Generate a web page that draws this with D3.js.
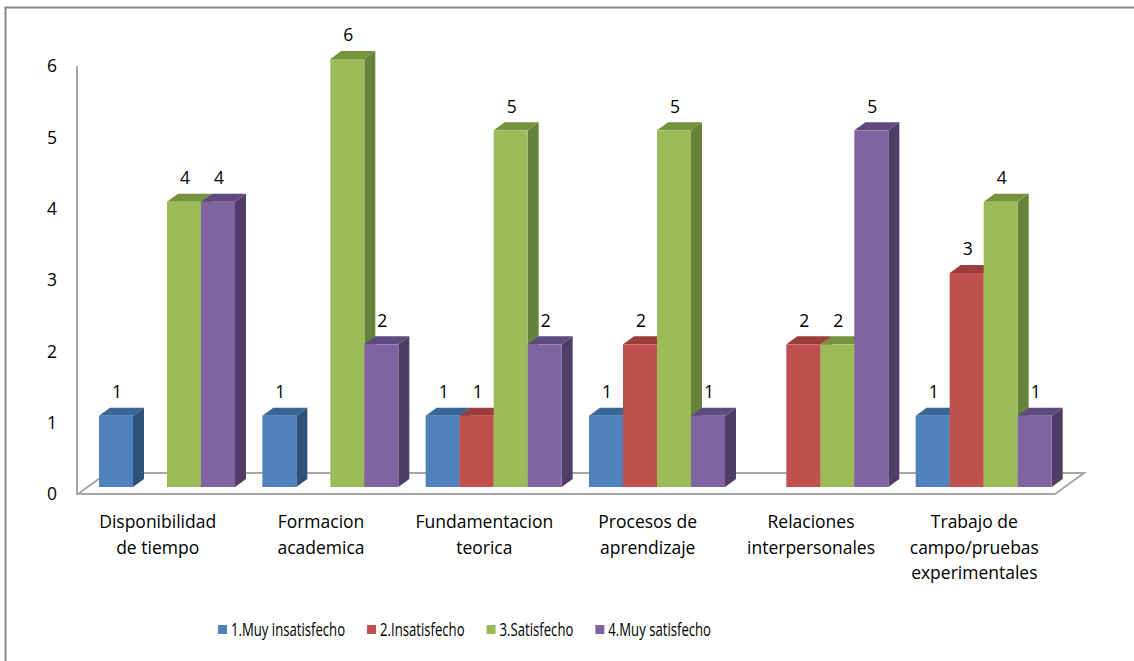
<!DOCTYPE html>
<html>
<head>
<meta charset="utf-8">
<script src="https://cdn.jsdelivr.net/npm/d3@7"></script>
<style>
    body { margin: 0; background: #fff; }
    svg text { font-family: "Open Sans", Lato, sans-serif; fill: #000; }
</style>
</head>
<body>
<svg id="chart" width="1134" height="661"></svg>
<script>
// categorias y series
const categories = [
    ["Disponibilidad", "de tiempo"],
    ["Formacion", "academica"],
    ["Fundamentacion", "teorica"],
    ["Procesos de", "aprendizaje"],
    ["Relaciones", "interpersonales"],
    ["Trabajo de", "campo/pruebas", "experimentales"]
];
const seriesNames = ["1.Muy insatisfecho", "2.Insatisfecho", "3.Satisfecho", "4.Muy satisfecho"];
const muyInsatisfecho = [1, 1, 1, 1, 0, 1];
const insatisfecho = [0, 0, 1, 2, 2, 3];
const satisfecho = [4, 6, 5, 5, 2, 4];
const muySatisfecho = [4, 2, 2, 1, 5, 1];
const yTicks = [0, 1, 2, 3, 4, 5, 6];

const seriesValues = [muyInsatisfecho, insatisfecho, satisfecho, muySatisfecho];
const frontColor = ["#4f81bd", "#c0504d", "#9bbb59", "#8064a2"];
const sideColor = ["#2f5079", "#8a3533", "#66813a", "#4f3d66"];
const topColor = ["#3a6597", "#9b3e3b", "#76923c", "#5f4a80"];

const svg = d3.select("#chart");

// marco exterior (recortado por la derecha y abajo)
svg.append("rect")
    .attr("x", 5.5).attr("y", 7.5)
    .attr("width", 1140).attr("height", 670)
    .attr("fill", "none").attr("stroke", "#888").attr("stroke-width", 2);

// profundidad del suelo y de las barras
const floorDx = 29, floorDy = -21;
const barDx = 11, barDy = -8;

const x = d3.scaleBand()
    .domain(d3.range(categories.length))
    .range([78, 1058])
    .paddingInner(0)
    .paddingOuter(0);

const barW = 34;
const groupOffset = 21; // desde el inicio de la banda hasta la primera barra

const yBar = d3.scaleLinear().domain([0, 6]).range([487, 59]);
const yAxis = d3.scaleLinear().domain([0, 6]).range([494, 66]);

// suelo
const floor = [[78, 494], [1055, 494], [1055 + floorDx, 494 + floorDy], [78 + floorDx, 494 + floorDy]];
svg.append("path")
    .attr("d", d3.line()(floor) + "Z")
    .attr("fill", "#fff")
    .attr("stroke", "#a6a6a6")
    .attr("stroke-width", 2);

// eje vertical
svg.append("line")
    .attr("x1", 77).attr("x2", 77)
    .attr("y1", yAxis(6)).attr("y2", 494)
    .attr("stroke", "#a6a6a6").attr("stroke-width", 2);

svg.append("g")
    .selectAll("text")
    .data(yTicks)
    .join("text")
    .attr("x", 52)
    .attr("y", (d) => yAxis(d))
    .attr("dy", "0.36em")
    .attr("text-anchor", "middle")
    .attr("font-size", 17.5)
    .text((d) => d);

// barras
const bars = svg.append("g");
const labels = svg.append("g");

categories.forEach((cat, ci) => {
    seriesValues.forEach((vals, si) => {
        const v = vals[ci];
        if (v === 0) return;
        const x0 = x(ci) + groupOffset + si * barW;
        const x1 = x0 + barW;
        const y0 = yBar(0);
        const y1 = yBar(v);

        bars.append("path")
            .attr("d", d3.line()([[x1, y0], [x1 + barDx, y0 + barDy], [x1 + barDx, y1 + barDy], [x1, y1]]) + "Z")
            .attr("fill", sideColor[si]);
        bars.append("path")
            .attr("d", d3.line()([[x0, y1], [x1, y1], [x1 + barDx, y1 + barDy], [x0 + barDx, y1 + barDy]]) + "Z")
            .attr("fill", topColor[si]);
        bars.append("rect")
            .attr("x", x0).attr("y", y1)
            .attr("width", barW).attr("height", y0 - y1)
            .attr("fill", frontColor[si]);

        labels.append("text")
            .attr("x", x0 + barW / 2 + 1)
            .attr("y", y1 - 24)
            .attr("dy", "0.36em")
            .attr("text-anchor", "middle")
            .attr("font-size", 17.5)
            .text(v);
    });
});

// etiquetas de categorias
svg.append("g")
    .selectAll("text")
    .data(categories)
    .join("text")
    .attr("text-anchor", "middle")
    .attr("font-size", 17.5)
    .attr("transform", (d, i) => `translate(${x(i) + x.bandwidth() / 2 - 2},0)`)
    .each(function (lines) {
        d3.select(this).selectAll("tspan")
            .data(lines)
            .join("tspan")
            .attr("x", 0)
            .attr("y", (d, j) => 522 + j * 25.5)
            .attr("dy", "0.36em")
            .text((d) => d);
    });

// leyenda (texto estrecho como en el original)
const legend = svg.append("g");
const squeeze = 0.73;
let lx = 218;
seriesNames.forEach((name, i) => {
    legend.append("rect")
        .attr("x", lx).attr("y", 625)
        .attr("width", 9).attr("height", 9)
        .attr("fill", frontColor[i]);
    const t = legend.append("text")
        .attr("transform", `translate(${lx + 13},630) scale(${squeeze},1)`)
        .attr("dy", "0.36em")
        .attr("font-size", 18)
        .text(name);
    lx += 13 + t.node().getComputedTextLength() * squeeze + 22;
});
</script>
</body>
</html>
